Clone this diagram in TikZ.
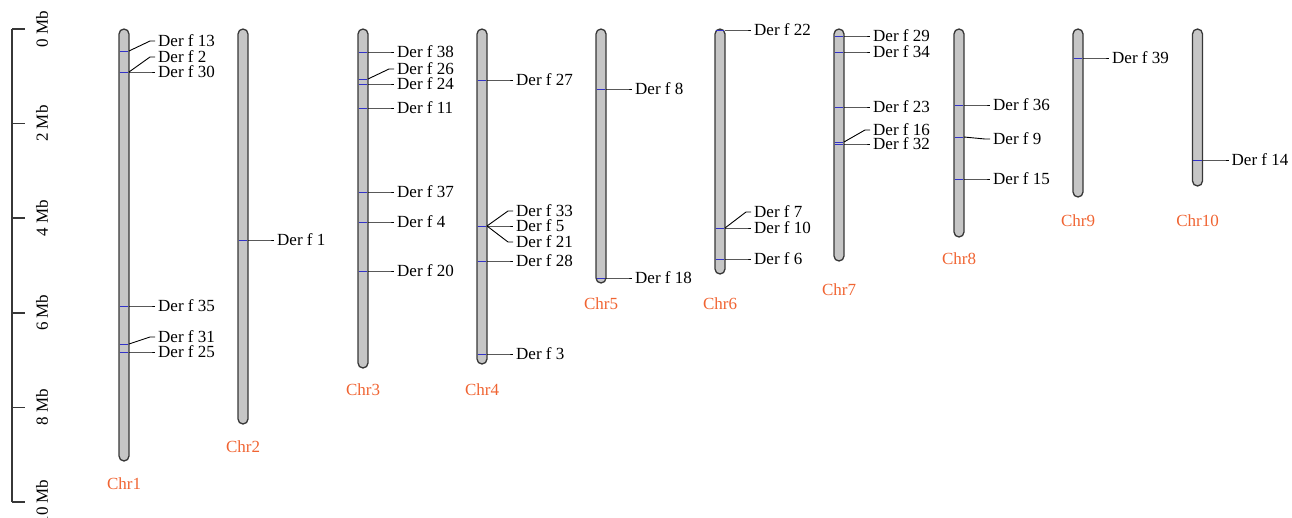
\documentclass[tikz,border=0pt]{standalone}
\usepackage{fontspec}
\setmainfont{Liberation Serif}
\usetikzlibrary{calc}
\definecolor{chrfill}{RGB}{198,198,198}
\definecolor{chredge}{RGB}{55,55,55}
\definecolor{mk}{RGB}{50,50,200}
\definecolor{chrorange}{RGB}{240,100,50}
\tikzset{
 chrom/.style={draw=chredge, fill=chrfill, line width=1.3pt, rounded corners=5pt, minimum width=10pt, inner sep=0pt},
 marker/.style={draw=mk, line width=1pt},
 lead/.style={draw=black, line width=0.9pt},
 lbl/.style={anchor=west, inner sep=0pt, font=\fontsize{17}{18}\selectfont},
 chrlbl/.style={text=chrorange, inner sep=0pt, font=\fontsize{17}{18}\selectfont},
 axisline/.style={draw=chredge, line width=1.5pt},
 axlbl/.style={rotate=90, inner sep=0pt, font=\fontsize{17}{18}\selectfont},
}
\newcommand\chromo[4]{% id, cx, bottom, label y
 \node[chrom, minimum height={#3-29}] (c#1) at (#2,{(29+#3)/2}) {};
 \node[chrlbl] (l#1) at (#2,#4) {Chr#1};
}
\newcommand\gene[5]{% id, cx, marker y, label y, text
 \draw[marker] (#2-4.4,#3) -- (#2+4.4,#3);
 \coordinate (m#1) at (#2+5,#3);
 \coordinate (k#1) at (#2+26,#4);
 \coordinate (e#1) at (#2+31,#4);
 \node[lbl] (g#1) at (#2+34,#4) {#5};
 \draw[lead] (m#1) -- (k#1) -- (e#1);
}
\begin{document}
\begin{tikzpicture}[x=1pt,y=-1pt]
\useasboundingbox (0,0) rectangle (1292,517);
% scale axis
\coordinate (a0) at (12,29);
\coordinate (a10) at (12,502);
\draw[axisline] (a0) -- (a10);
\foreach \i/\yy in {0/29,2/123.6,4/218.2,6/312.8,8/407.4,10/502}{
  \coordinate (t\i) at (12,\yy);
  \coordinate (u\i) at (25,\yy);
  \draw[axisline] (t\i) -- (u\i);
  \node[axlbl] (al\i) at (42,\yy) {\i\ Mb};
}
% chromosomes
\chromo{1}{124}{461}{484}
\chromo{2}{243}{424}{447}
\chromo{3}{363}{368}{390}
\chromo{4}{482}{364}{390}
\chromo{5}{601}{283}{304}
\chromo{6}{720}{274}{304}
\chromo{7}{839}{261}{290}
\chromo{8}{959}{237}{259}
\chromo{9}{1078}{197}{221}
\chromo{10}{1197.5}{186}{221}
% genes
\gene{13}{124}{51}{41}{Der f 13}
\gene{2}{124}{72}{57}{Der f 2}
\gene{30}{124}{72}{72}{Der f 30}
\gene{35}{124}{306}{306}{Der f 35}
\gene{31}{124}{344}{337}{Der f 31}
\gene{25}{124}{352}{352}{Der f 25}
\gene{1}{243}{240}{240}{Der f 1}
\gene{38}{363}{52}{52}{Der f 38}
\gene{26}{363}{79}{69}{Der f 26}
\gene{24}{363}{84}{84}{Der f 24}
\gene{11}{363}{108}{108}{Der f 11}
\gene{37}{363}{192}{192}{Der f 37}
\gene{4}{363}{222}{222}{Der f 4}
\gene{20}{363}{271}{271}{Der f 20}
\gene{27}{482}{80}{80}{Der f 27}
\gene{33}{482}{226}{211}{Der f 33}
\gene{5}{482}{226}{226}{Der f 5}
\gene{21}{482}{226}{242}{Der f 21}
\gene{28}{482}{261}{261}{Der f 28}
\gene{3}{482}{354}{354}{Der f 3}
\gene{8}{601}{89}{89}{Der f 8}
\gene{18}{601}{278}{278}{Der f 18}
\gene{22}{720}{30}{30}{Der f 22}
\gene{7}{720}{228}{212}{Der f 7}
\gene{10}{720}{228}{228}{Der f 10}
\gene{6}{720}{259}{259}{Der f 6}
\gene{29}{839}{36}{36}{Der f 29}
\gene{34}{839}{52}{52}{Der f 34}
\gene{23}{839}{107}{107}{Der f 23}
\gene{16}{839}{142}{130}{Der f 16}
\gene{32}{839}{144}{144}{Der f 32}
\gene{36}{959}{105}{105}{Der f 36}
\gene{9}{959}{137}{139}{Der f 9}
\gene{15}{959}{179}{179}{Der f 15}
\gene{39}{1078}{58}{58}{Der f 39}
\gene{14}{1197.5}{160}{160}{Der f 14}
\end{tikzpicture}
\end{document}
